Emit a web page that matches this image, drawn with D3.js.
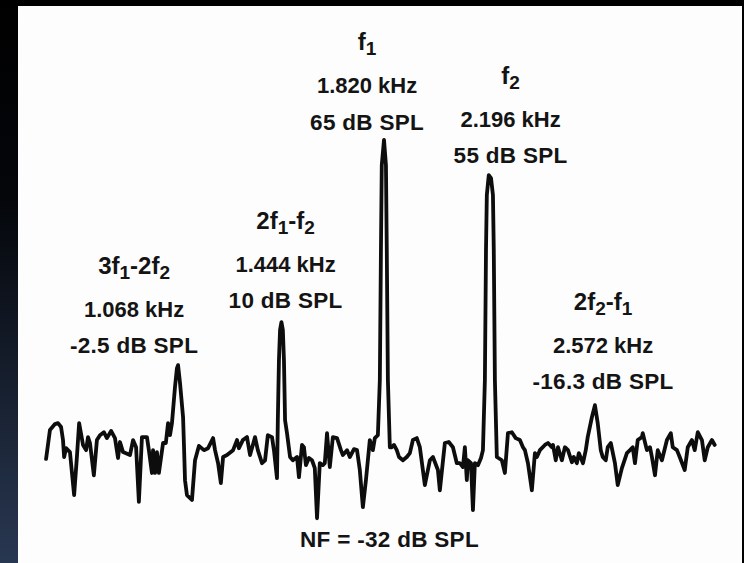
<!DOCTYPE html>
<html>
<head>
<meta charset="utf-8">
<script src="https://cdn.jsdelivr.net/npm/d3@7"></script>
<style>
  body { margin: 0; background: #000; }
  svg { display: block; }
  .label { font-family: 'Liberation Sans', Arial, Helvetica, sans-serif; font-weight: bold; fill: #141414; text-anchor: middle; }
</style>
</head>
<body>
<script>
// spectrum trace: frequency (kHz) and level (dB SPL)
const traceFreq = [
    0.593, 0.607, 0.625, 0.636, 0.647, 0.654, 0.658, 0.665, 0.679, 0.694,
    0.704, 0.712, 0.726, 0.737, 0.744, 0.751, 0.765, 0.776, 0.787, 0.801,
    0.812, 0.827, 0.841, 0.852, 0.859, 0.870, 0.895, 0.906, 0.917, 0.927,
    0.938, 0.956, 0.963, 0.974, 0.978, 0.985, 0.992, 0.999, 1.014, 1.024,
    1.032, 1.039, 1.046, 1.050, 1.057, 1.064, 1.068, 1.075, 1.086, 1.089,
    1.093, 1.100, 1.118, 1.129, 1.143, 1.161, 1.176, 1.194, 1.201, 1.212,
    1.222, 1.230, 1.244, 1.266, 1.280, 1.287, 1.301, 1.316, 1.327, 1.345,
    1.355, 1.370, 1.381, 1.391, 1.406, 1.413, 1.424, 1.427, 1.431, 1.435,
    1.440, 1.445, 1.449, 1.453, 1.460, 1.471, 1.481, 1.496, 1.503, 1.514,
    1.521, 1.528, 1.539, 1.550, 1.560, 1.568, 1.578, 1.589, 1.596, 1.604,
    1.614, 1.625, 1.640, 1.654, 1.661, 1.676, 1.686, 1.701, 1.712, 1.722,
    1.733, 1.744, 1.758, 1.769, 1.776, 1.787, 1.794, 1.798, 1.801, 1.809,
    1.816, 1.819, 1.823, 1.830, 1.837, 1.845, 1.855, 1.863, 1.877, 1.891,
    1.902, 1.913, 1.927, 1.938, 1.956, 1.974, 1.985, 2.003, 2.010, 2.028,
    2.042, 2.057, 2.071, 2.082, 2.093, 2.100, 2.107, 2.111, 2.122, 2.129,
    2.136, 2.147, 2.158, 2.165, 2.172, 2.176, 2.179, 2.186, 2.194, 2.201,
    2.204, 2.208, 2.215, 2.233, 2.244, 2.255, 2.269, 2.283, 2.298, 2.309,
    2.316, 2.327, 2.341, 2.352, 2.359, 2.370, 2.388, 2.399, 2.413, 2.417,
    2.427, 2.435, 2.449, 2.460, 2.471, 2.485, 2.492, 2.503, 2.510, 2.525,
    2.535, 2.542, 2.557, 2.568, 2.578, 2.589, 2.596, 2.607, 2.614, 2.625,
    2.640, 2.650, 2.665, 2.683, 2.694, 2.704, 2.712, 2.722, 2.737, 2.740,
    2.755, 2.766, 2.773, 2.784, 2.794, 2.809, 2.827, 2.841, 2.848, 2.863,
    2.873, 2.891, 2.902, 2.917, 2.927, 2.938, 2.953, 2.963, 2.974, 2.989,
    2.999
]
const traceLevel = [
    -32.8, -23.9, -22.1, -21.8, -23.0, -27.0, -32.2, -29.5, -30.7, -43.9,
    -32.2, -21.8, -28.5, -30.1, -26.1, -27.9, -37.8, -27.0, -25.5, -24.6,
    -26.4, -24.2, -26.4, -32.5, -27.6, -30.7, -31.6, -27.0, -29.2, -46.0,
    -26.1, -26.1, -30.1, -37.1, -30.1, -37.1, -30.7, -37.1, -27.9, -27.9,
    -21.8, -25.5, -21.8, -17.8, -10.7, -4.9, -4.0, -9.5, -20.0, -27.9,
    -39.3, -43.9, -45.4, -33.2, -28.8, -30.1, -29.5, -26.4, -30.1, -34.1,
    -40.2, -32.2, -31.6, -30.1, -27.0, -29.5, -27.0, -26.1, -31.6, -26.1,
    -30.1, -34.1, -33.2, -25.5, -26.1, -30.1, -38.7, -20.9, -2.5, 6.8,
    9.2, 6.8, -2.5, -20.9, -24.9, -32.2, -33.2, -32.2, -38.4, -28.5,
    -29.2, -34.7, -32.5, -33.2, -35.6, -51.0, -34.1, -34.7, -34.1, -24.9,
    -35.3, -26.1, -26.4, -30.1, -31.6, -30.1, -32.2, -29.8, -30.1, -36.2,
    -47.6, -39.3, -27.0, -30.1, -26.4, -25.5, -8.6, 31.3, 57.4, 65.1,
    57.4, 31.3, -8.6, -29.2, -29.2, -28.5, -30.1, -32.2, -33.2, -32.2,
    -31.0, -27.0, -26.4, -29.2, -40.8, -33.2, -32.2, -36.2, -42.4, -27.9,
    -27.6, -29.2, -34.1, -34.1, -35.3, -29.2, -39.3, -33.2, -34.1, -48.5,
    -34.1, -34.7, -32.5, -30.1, -8.6, 31.3, 48.2, 54.3, 53.4, 48.2,
    31.3, -8.6, -32.2, -33.2, -37.1, -24.9, -24.6, -26.4, -27.0, -29.2,
    -30.1, -34.1, -42.4, -31.0, -32.2, -30.1, -28.5, -27.9, -29.2, -28.5,
    -33.2, -29.2, -33.2, -29.2, -30.1, -33.8, -32.2, -34.1, -31.0, -34.1,
    -30.1, -26.1, -20.0, -16.3, -21.8, -30.1, -32.2, -33.2, -29.2, -27.9,
    -34.1, -40.8, -35.6, -31.0, -30.1, -29.2, -34.1, -27.0, -26.1, -24.9,
    -30.1, -29.2, -32.2, -37.8, -30.1, -33.2, -27.0, -24.9, -29.2, -30.1,
    -32.2, -36.2, -29.2, -27.0, -30.1, -24.6, -27.0, -33.2, -29.2, -27.0,
    -28.5
]

// labelled components
const peakFreq = [1.068, 1.444, 1.820, 2.196, 2.572]
const peakNames = ['3f_1-2f_2', '2f_1-f_2', 'f_1', 'f_2', '2f_2-f_1']
const peakFreqText = ['1.068 kHz', '1.444 kHz', '1.820 kHz', '2.196 kHz', '2.572 kHz']
const peakLevelText = ['-2.5 dB SPL', '10 dB SPL', '65 dB SPL', '55 dB SPL', '-16.3 dB SPL']
const noteText = 'NF = -32 dB SPL'

// where each text block sits relative to its peak (px)
const labelDx = [-44, 3, -20, 19, 7]
const labelGap = [12, 14, 10, 12, 16]

const width = 744
const height = 563

const svg = d3.select('body').append('svg')
    .attr('width', width)
    .attr('height', height)

const grad = svg.append('defs').append('linearGradient')
    .attr('id', 'edge')
    .attr('x1', 0).attr('y1', 0).attr('x2', 0).attr('y2', 1)
grad.append('stop').attr('offset', '0%').attr('stop-color', '#000')
grad.append('stop').attr('offset', '35%').attr('stop-color', '#04060a')
grad.append('stop').attr('offset', '100%').attr('stop-color', '#283751')

svg.append('rect')
    .attr('width', width)
    .attr('height', height)
    .attr('fill', '#000')
svg.append('rect')
    .attr('width', 18)
    .attr('height', height)
    .attr('fill', 'url(#edge)')
svg.append('rect')
    .attr('x', 18)
    .attr('y', 6)
    .attr('width', 724)
    .attr('height', height - 6)
    .attr('fill', '#fdfdfd')

const xScale = d3.scaleLinear()
    .domain([0.6, 3.0])
    .range([48, 715])

const yScale = d3.scaleLinear()
    .domain([-50, 70])
    .range([515, 124])

const trace = traceFreq.map((f, i) => ({ f: f, db: traceLevel[i] }))

const line = d3.line()
    .x(d => xScale(d.f))
    .y(d => yScale(d.db))

svg.append('path')
    .datum(trace)
    .attr('d', line)
    .attr('fill', 'none')
    .attr('stroke', '#0d0d0d')
    .attr('stroke-width', 3.8)
    .attr('stroke-linejoin', 'round')
    .attr('stroke-linecap', 'round')

const peaks = peakFreq.map((f, i) => {
    const near = trace.filter(d => Math.abs(d.f - f) < 0.02)
    return {
        f: f,
        top: d3.max(near, d => d.db),
        name: peakNames[i],
        freqText: peakFreqText[i],
        levelText: peakLevelText[i]
    }
})

peaks.forEach((p, i) => {
    const cx = xScale(p.f) + labelDx[i]
    const base = yScale(p.top) - labelGap[i]

    svg.append('text')
        .attr('class', 'label')
        .attr('x', cx)
        .attr('y', base)
        .style('font-size', '22.5px')
        .style('letter-spacing', '0.3px')
        .text(p.levelText)

    svg.append('text')
        .attr('class', 'label')
        .attr('x', cx)
        .attr('y', base - 36.5)
        .style('font-size', '22px')
        .text(p.freqText)

    // name with subscripts, e.g. 3f_1-2f_2
    const name = svg.append('text')
        .attr('class', 'label')
        .attr('x', cx)
        .attr('y', base - 79.5)
    let shifted = false
    p.name.split(/_(\d)/).forEach((s, j) => {
        if (!s) return
        const sub = j % 2 === 1
        name.append('tspan')
            .style('font-size', sub ? '19px' : '24px')
            .attr('dy', sub ? 5 : (shifted ? -5 : 0))
            .text(s)
        shifted = sub
    })
})

svg.append('text')
    .attr('class', 'label')
    .attr('x', (xScale.range()[0] + xScale.range()[1]) / 2 + 8)
    .attr('y', 547)
    .style('font-size', '22.5px')
    .style('letter-spacing', '0.3px')
    .text(noteText)
</script>
</body>
</html>
